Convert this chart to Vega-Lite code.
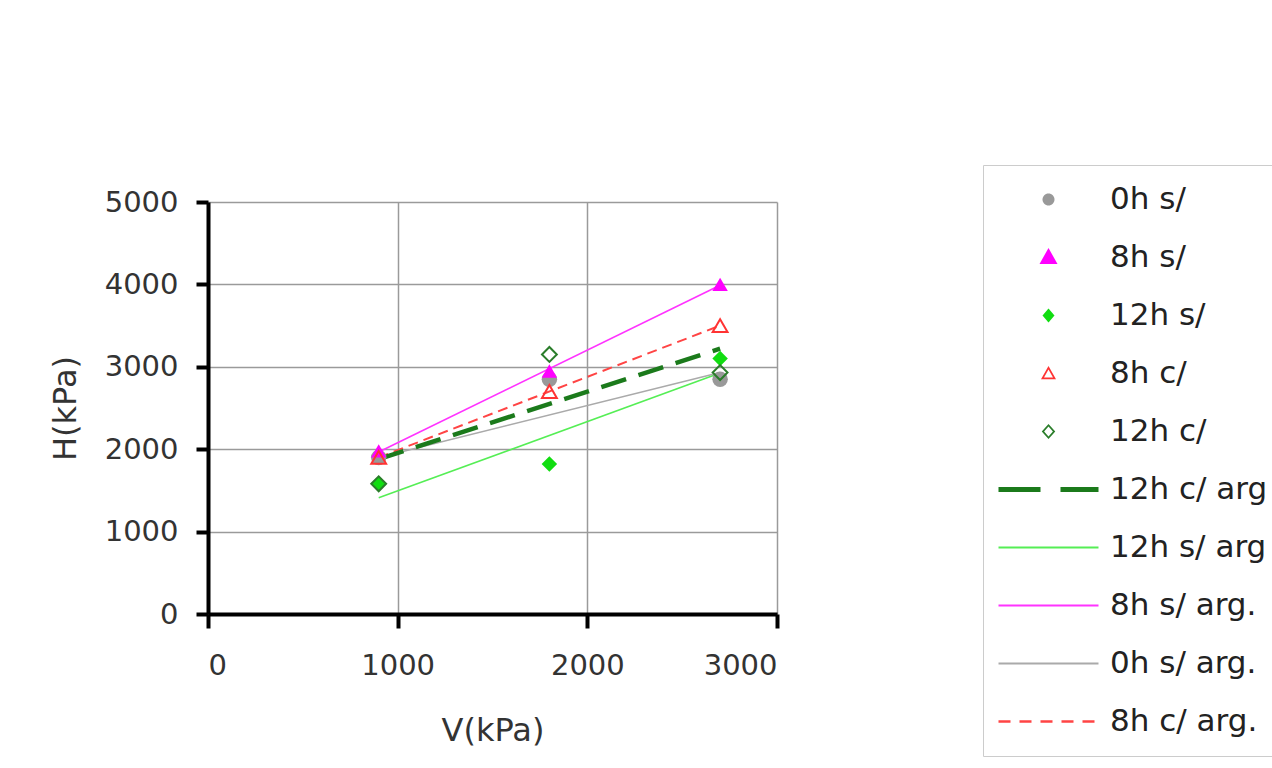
{
  "$schema": "https://vega.github.io/schema/vega-lite/v6.json",
  "width": 569,
  "height": 412,
  "autosize": {"type": "none"},
  "padding": {"left": 208, "top": 202, "right": 495, "bottom": 154},
  "background": "white",
  "config": {
    "font": "DejaVu Sans",
    "view": {"stroke": null},
    "axis": {
      "grid": true,
      "gridColor": "#9a9a9a",
      "gridWidth": 1.5,
      "domainColor": "#000000",
      "domainWidth": 4,
      "tickColor": "#000000",
      "tickWidth": 4,
      "labelFont": "DejaVu Sans",
      "labelFontSize": 29,
      "labelColor": "#333333",
      "titleFont": "DejaVu Sans",
      "titleFontSize": 32,
      "titleFontWeight": "normal",
      "titleColor": "#333333"
    }
  },
  "datasets": {
    "pts": [
      {"series": "0h s/", "V": 900, "H": 1900},
      {"series": "0h s/", "V": 1800, "H": 2850},
      {"series": "0h s/", "V": 2700, "H": 2850},
      {"series": "8h s/", "V": 900, "H": 1980},
      {"series": "8h s/", "V": 1800, "H": 2950},
      {"series": "8h s/", "V": 2700, "H": 4000},
      {"series": "12h s/", "V": 900, "H": 1580},
      {"series": "12h s/", "V": 1800, "H": 1820},
      {"series": "12h s/", "V": 2700, "H": 3100},
      {"series": "8h c/", "V": 900, "H": 1900},
      {"series": "8h c/", "V": 1800, "H": 2700},
      {"series": "8h c/", "V": 2700, "H": 3500},
      {"series": "12h c/", "V": 900, "H": 1580},
      {"series": "12h c/", "V": 1800, "H": 3150},
      {"series": "12h c/", "V": 2700, "H": 2930}
    ],
    "lines": [
      {"series": "12h c/ arg", "V": 900, "H": 1880},
      {"series": "12h c/ arg", "V": 2700, "H": 3220},
      {"series": "12h s/ arg", "V": 900, "H": 1410},
      {"series": "12h s/ arg", "V": 2700, "H": 2925},
      {"series": "8h s/ arg.", "V": 900, "H": 1965},
      {"series": "8h s/ arg.", "V": 2700, "H": 3990},
      {"series": "0h s/ arg.", "V": 900, "H": 1900},
      {"series": "0h s/ arg.", "V": 2700, "H": 2930},
      {"series": "8h c/ arg.", "V": 900, "H": 1900},
      {"series": "8h c/ arg.", "V": 2700, "H": 3500}
    ]
  },
  "encoding": {
    "x": {
      "field": "V", "type": "quantitative",
      "scale": {"domain": [0, 3000], "nice": false, "zero": false},
      "axis": {"values": [0, 1000, 2000, 3000], "format": "d", "tickSize": 14, "labelPadding": 23, "title": "V(kPa)", "titlePadding": 35}
    },
    "y": {
      "field": "H", "type": "quantitative",
      "scale": {"domain": [0, 5000], "nice": false, "zero": false},
      "axis": {"values": [0, 1000, 2000, 3000, 4000, 5000], "format": "d", "tickSize": 12, "labelPadding": 18, "title": "H(kPa)", "titlePadding": 22}
    },
    "color": {
      "field": "series", "type": "nominal",
      "scale": {
        "domain": ["0h s/", "8h s/", "12h s/", "8h c/", "12h c/", "12h c/ arg", "12h s/ arg", "8h s/ arg.", "0h s/ arg.", "8h c/ arg."],
        "range": ["#999999", "#ff00ff", "#11dd11", "#ff3333", "#2a7d2a", "#1b7a1b", "#55ee55", "#ff33ff", "#aaaaaa", "#ff4444"]
      },
      "legend": {
        "title": null,
        "orient": "none",
        "legendX": 775,
        "legendY": -37,
        "padding": 19,
        "strokeColor": "#cccccc",
        "fillColor": "#ffffff",
        "symbolSize": 10000,
        "symbolOffset": 31,
        "labelFont": "DejaVu Sans",
        "labelFontSize": 31,
        "labelColor": "#222222",
        "labelOffset": 46,
        "rowPadding": 26,
        "labelLimit": 400,
        "encode": {
          "symbols": {
            "update": {
              "shape": {"signal": "indexof(['12h c/ arg','12h s/ arg','8h s/ arg.','0h s/ arg.','8h c/ arg.'], datum.value) >= 0 ? 'stroke' : datum.value == '0h s/' ? 'M-0.12,0A0.12,0.12,0,1,1,0.12,0A0.12,0.12,0,1,1,-0.12,0Z' : datum.value == '8h s/' ? 'M0,-0.19L0.18,0.13L-0.18,0.13Z' : datum.value == '8h c/' ? 'M0,-0.15L0.15,0.115L-0.15,0.115ZM0,-0.079L-0.09,0.08L0.09,0.08Z' : datum.value == '12h s/' ? 'M0,-0.14L0.12,0L0,0.14L-0.12,0Z' : 'M0,-0.15L0.135,0L0,0.15L-0.135,0ZM0,-0.098L-0.088,0L0,0.098L0.088,0Z'"},
              "strokeWidth": {"signal": "datum.value == '12h c/ arg' ? 5 : datum.value == '8h c/ arg.' ? 2.5 : indexof(['12h s/ arg','8h s/ arg.','0h s/ arg.'], datum.value) >= 0 ? 2 : 0"},
              "strokeDash": {"signal": "datum.value == '12h c/ arg' ? [42, 20] : datum.value == '8h c/ arg.' ? [12, 9] : [1, 0]"},
              "opacity": {"value": 1}
            }
          }
        }
      }
    }
  },
  "layer": [
    {
      "data": {"name": "lines"},
      "transform": [{"filter": "datum.series == '0h s/ arg.' || datum.series == '12h s/ arg' || datum.series == '8h s/ arg.'"}],
      "mark": {"type": "line", "strokeWidth": 1.6}
    },
    {
      "data": {"name": "lines"},
      "transform": [{"filter": "datum.series == '8h c/ arg.'"}],
      "mark": {"type": "line", "strokeWidth": 2, "strokeDash": [10, 6]}
    },
    {
      "data": {"name": "lines"},
      "transform": [{"filter": "datum.series == '12h c/ arg'"}],
      "mark": {"type": "line", "strokeWidth": 4.5, "strokeDash": [26, 13]}
    },
    {
      "data": {"name": "pts"},
      "transform": [{"filter": "datum.series == '0h s/' || datum.series == '8h s/' || datum.series == '12h s/'"}],
      "mark": {"type": "point", "filled": true, "opacity": 1, "size": 240},
      "encoding": {
        "shape": {
          "field": "series", "type": "nominal",
          "scale": {"domain": ["0h s/", "8h s/", "12h s/", "8h c/", "12h c/"], "range": ["circle", "triangle-up", "diamond", "triangle-up", "diamond"]},
          "legend": null
        }
      }
    },
    {
      "data": {"name": "pts"},
      "transform": [{"filter": "datum.series == '8h c/' || datum.series == '12h c/'"}],
      "mark": {"type": "point", "filled": false, "opacity": 1, "size": 220, "strokeWidth": 2},
      "encoding": {
        "shape": {
          "field": "series", "type": "nominal",
          "scale": {"domain": ["0h s/", "8h s/", "12h s/", "8h c/", "12h c/"], "range": ["circle", "triangle-up", "diamond", "triangle-up", "diamond"]},
          "legend": null
        }
      }
    }
  ]
}
